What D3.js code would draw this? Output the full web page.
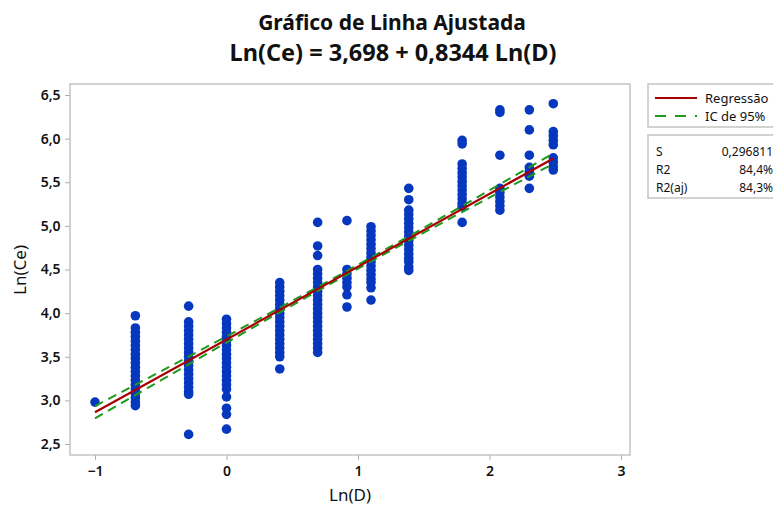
<!DOCTYPE html>
<html><head><meta charset="utf-8">
<script src="https://cdn.jsdelivr.net/npm/d3@7"></script>
<style>body{margin:0;background:#fff;} svg{display:block;font-family:"Noto Sans","Open Sans",sans-serif;}</style>
</head><body>
<svg id="c" width="773" height="507"></svg>
<script>
// ---- data ----
const clusterX = [-1, -0.693, -0.288, 0, 0.405, 0.693, 0.916, 1.099, 1.386, 1.792, 2.079, 2.303, 2.485];
const clusterY = [
  [2.98],
  [3.97, 3.83, 3.78, 3.73, 3.68, 3.63, 3.58, 3.53, 3.48, 3.43, 3.38, 3.33, 3.28, 3.23, 3.18, 3.13, 3.08, 3.03, 2.98, 2.94],
  [4.08, 3.90, 3.85, 3.80, 3.75, 3.70, 3.65, 3.60, 3.55, 3.50, 3.45, 3.40, 3.35, 3.30, 3.25, 3.20, 3.15, 3.10, 3.07, 2.61],
  [3.93, 3.88, 3.83, 3.78, 3.73, 3.68, 3.63, 3.58, 3.53, 3.48, 3.43, 3.38, 3.33, 3.28, 3.23, 3.18, 3.13, 3.04, 2.91, 2.84, 2.67],
  [4.35, 4.30, 4.25, 4.20, 4.15, 4.10, 4.05, 4.00, 3.95, 3.90, 3.85, 3.80, 3.75, 3.70, 3.65, 3.60, 3.55, 3.50, 3.36],
  [5.04, 4.77, 4.66, 4.50, 4.45, 4.40, 4.35, 4.30, 4.25, 4.20, 4.15, 4.10, 4.05, 4.00, 3.95, 3.90, 3.85, 3.80, 3.75, 3.70, 3.65, 3.60, 3.55],
  [5.06, 4.50, 4.45, 4.40, 4.35, 4.30, 4.21, 4.07],
  [4.99, 4.94, 4.89, 4.84, 4.79, 4.74, 4.69, 4.64, 4.59, 4.54, 4.49, 4.44, 4.39, 4.35, 4.29, 4.15],
  [5.43, 5.30, 5.18, 5.13, 5.08, 5.03, 4.98, 4.93, 4.88, 4.83, 4.78, 4.73, 4.68, 4.63, 4.59, 4.53, 4.49],
  [5.98, 5.94, 5.71, 5.66, 5.61, 5.56, 5.51, 5.46, 5.41, 5.36, 5.31, 5.26, 5.22, 5.04],
  [6.33, 6.30, 5.81, 5.43, 5.38, 5.33, 5.28, 5.23, 5.18],
  [6.33, 6.10, 5.81, 5.67, 5.62, 5.57, 5.43],
  [6.40, 6.08, 6.03, 5.98, 5.93, 5.78, 5.73, 5.68, 5.64]
];
const intercept = 3.698, slope = 0.8344;
const fitRange = [-1, 2.485];
const ciX = [-1, -0.5, 0, 0.5, 1, 1.5, 2, 2.485];
const ciHalf = [0.07, 0.052, 0.036, 0.025, 0.022, 0.028, 0.042, 0.06];
const xTicks = [-1, 0, 1, 2, 3];
const yTicks = [2.5, 3.0, 3.5, 4.0, 4.5, 5.0, 5.5, 6.0, 6.5];
const stats = [["S", "0,296811"], ["R2", "84,4%"], ["R2(aj)", "84,3%"]];
const legendItems = ["Regressão", "IC de 95%"];

// ---- chart ----
const svg = d3.select("#c");
const x = d3.scaleLinear().domain([-1, 3]).range([95, 621]);
const y = d3.scaleLinear().domain([2.5, 6.5]).range([444, 95]);
const fx0 = 70, fx1 = 630, fy0 = 84, fy1 = 455;
const fmt = d => d3.format(".1f")(d).replace(".", ",");

// titles
svg.append("text").attr("x", 392).attr("y", 30).attr("text-anchor", "middle")
  .attr("font-size", 21).attr("font-weight", "bold").attr("fill", "#111").text("Gráfico de Linha Ajustada");
svg.append("text").attr("x", 393).attr("y", 61).attr("text-anchor", "middle")
  .attr("font-size", 23.5).attr("font-weight", "bold").attr("fill", "#111").text("Ln(Ce) = 3,698 + 0,8344 Ln(D)");

// frame
svg.append("rect").attr("x", fx0).attr("y", fy0).attr("width", fx1 - fx0).attr("height", fy1 - fy0)
  .attr("fill", "#fff").attr("stroke", "#c4c4c4").attr("stroke-width", 1.5);

// axes
const xa = svg.append("g").attr("transform", `translate(0,${fy1})`)
  .call(d3.axisBottom(x).tickValues(xTicks).tickSize(5).tickFormat(d3.format("d")));
const ya = svg.append("g").attr("transform", `translate(${fx0},0)`)
  .call(d3.axisLeft(y).tickValues(yTicks).tickSize(5).tickFormat(fmt));
[xa, ya].forEach(a => {
  a.select(".domain").remove();
  a.selectAll("line").attr("stroke", "#b0b0b0");
  a.selectAll("text").attr("font-size", 14).attr("font-weight", 600).attr("fill", "#111")
    .attr("font-family", "Noto Sans, sans-serif");
});
xa.selectAll("text").attr("dy", "0.95em");
ya.selectAll("text").attr("dx", "-0.1em");

svg.append("text").attr("x", 350).attr("y", 501).attr("text-anchor", "middle")
  .attr("font-size", 17).attr("fill", "#111").text("Ln(D)");
svg.append("text").attr("transform", "translate(26,270) rotate(-90)").attr("text-anchor", "middle")
  .attr("font-size", 17).attr("fill", "#111").text("Ln(Ce)");

// points
const pts = [];
clusterX.forEach((cx, i) => clusterY[i].forEach(v => pts.push([cx, v])));
svg.append("g").selectAll("circle").data(pts).join("circle")
  .attr("cx", d => x(d[0])).attr("cy", d => y(d[1])).attr("r", 4.8).attr("fill", "#0538BE");

// CI lines
const ciLine = d3.line().x(d => x(d[0])).y(d => y(d[1])).curve(d3.curveMonotoneX);
[1, -1].forEach(sgn => {
  svg.append("path")
    .datum(ciX.map((cx, i) => [cx, intercept + slope * cx + sgn * ciHalf[i]]))
    .attr("d", ciLine).attr("fill", "none").attr("stroke", "#1E9A1E").attr("stroke-width", 2)
    .attr("stroke-dasharray", "9,6");
});
// regression line
svg.append("line")
  .attr("x1", x(fitRange[0])).attr("y1", y(intercept + slope * fitRange[0]))
  .attr("x2", x(fitRange[1])).attr("y2", y(intercept + slope * fitRange[1]))
  .attr("stroke", "#A80000").attr("stroke-width", 2.2);

// legend box 1
svg.append("rect").attr("x", 648).attr("y", 84).attr("width", 140).attr("height", 43)
  .attr("fill", "#fff").attr("stroke", "#c4c4c4").attr("stroke-width", 1.5);
svg.append("line").attr("x1", 655).attr("x2", 697).attr("y1", 98).attr("y2", 98)
  .attr("stroke", "#A80000").attr("stroke-width", 2.2);
svg.append("line").attr("x1", 655).attr("x2", 697).attr("y1", 116).attr("y2", 116)
  .attr("stroke", "#1E9A1E").attr("stroke-width", 2).attr("stroke-dasharray", "11,9");
legendItems.forEach((t, i) => svg.append("text").attr("x", 705).attr("y", 103 + i * 18)
  .attr("font-size", 13).attr("fill", "#111").text(t));

// stats box
svg.append("rect").attr("x", 648).attr("y", 135).attr("width", 140).attr("height", 63)
  .attr("fill", "#fff").attr("stroke", "#c4c4c4").attr("stroke-width", 1.5);
stats.forEach((s, i) => {
  svg.append("text").attr("x", 656).attr("y", 156 + i * 18).attr("font-size", 12).attr("fill", "#111").text(s[0]);
  svg.append("text").attr("x", 773).attr("y", 156 + i * 18).attr("text-anchor", "end")
    .attr("font-size", 12).attr("fill", "#111").text(s[1]);
});
</script>
</body></html>
